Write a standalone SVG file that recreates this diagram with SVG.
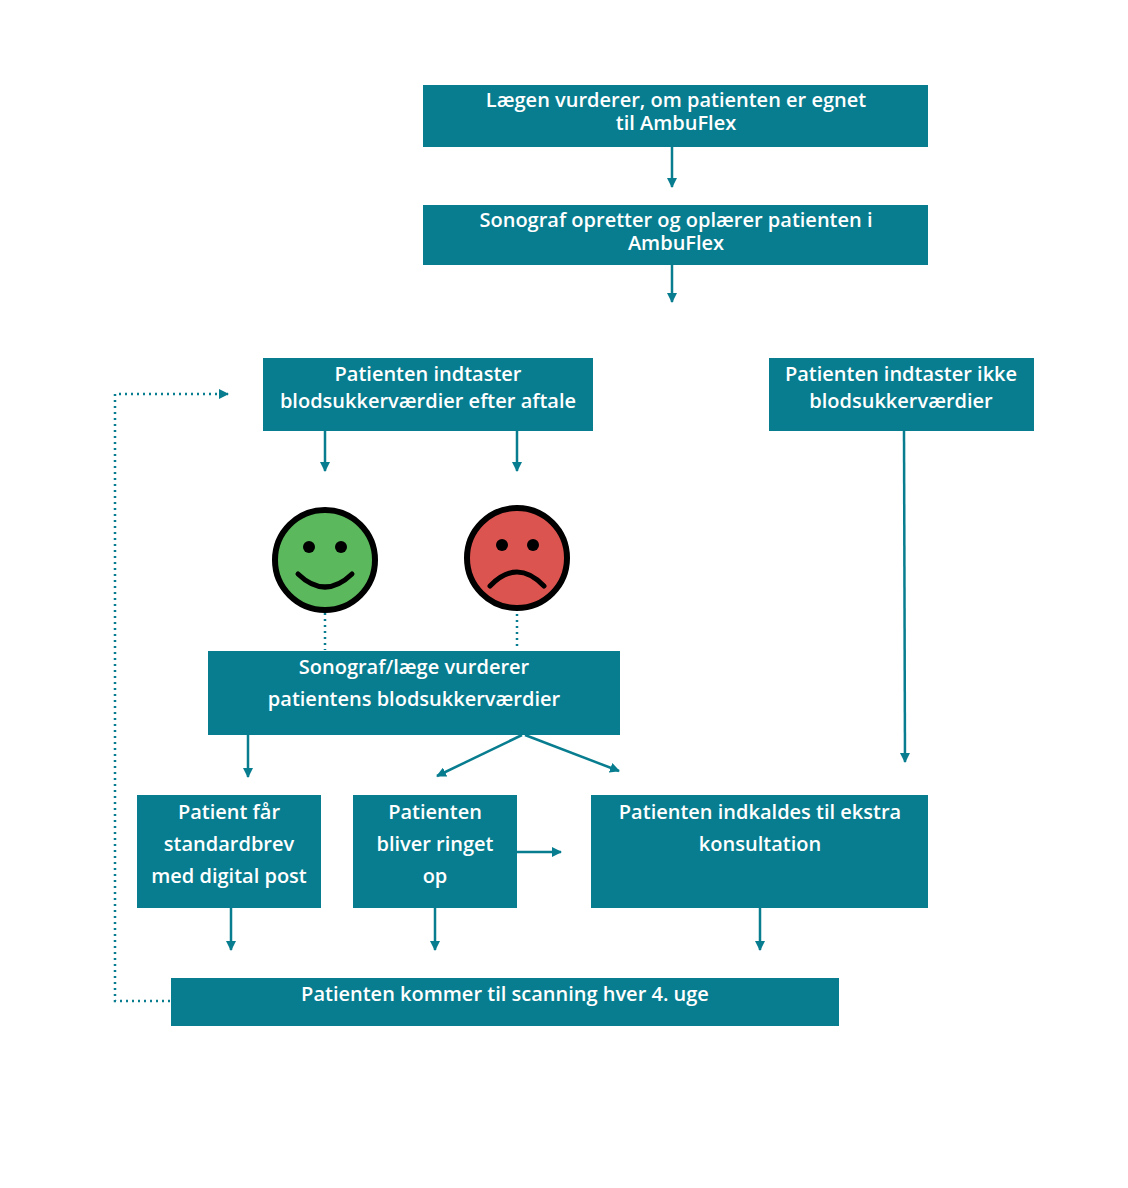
<svg xmlns="http://www.w3.org/2000/svg" width="1128" height="1188" viewBox="0 0 1128 1188">
<style>
.b{fill:#077d8f}
.t{font-family:"Open Sans",sans-serif;font-size:20px;font-weight:600;fill:#fff;text-anchor:middle}
.c{stroke:#077d8f;stroke-width:2.5;fill:none}
.d{stroke:#077d8f;stroke-width:2.5;fill:none;stroke-dasharray:2 4}
</style>
<defs><marker id="a" viewBox="0 0 10 10" refX="9" refY="5" markerWidth="4" markerHeight="4" orient="auto"><path d="M0 0L10 5L0 10z" fill="#077d8f"/></marker></defs>
<rect width="1128" height="1188" fill="#fff"/>
<g id="n1"><rect class="b" x="423" y="85" width="505" height="62"/><text class="t" x="676" y="107">Lægen vurderer, om patienten er egnet</text><text class="t" x="676" y="130">til AmbuFlex</text></g>
<g id="n2"><rect class="b" x="423" y="205" width="505" height="60"/><text class="t" x="676" y="227">Sonograf opretter og oplærer patienten i</text><text class="t" x="676" y="250">AmbuFlex</text></g>
<g id="n3"><rect class="b" x="263" y="358" width="330" height="73"/><text class="t" x="428" y="381">Patienten indtaster</text><text class="t" x="428" y="408">blodsukkerværdier efter aftale</text></g>
<g id="n4"><rect class="b" x="769" y="358" width="265" height="73"/><text class="t" x="901" y="381">Patienten indtaster ikke</text><text class="t" x="901" y="408">blodsukkerværdier</text></g>
<g id="happy"><circle cx="325" cy="560" r="50" fill="#5cb85c" stroke="#000" stroke-width="6"/><circle cx="309" cy="547" r="6"/><circle cx="341" cy="547" r="6"/><path d="M298 574Q325 600 352 574" fill="none" stroke="#000" stroke-width="5" stroke-linecap="round"/></g>
<g id="sad"><circle cx="517" cy="558" r="50" fill="#dc5450" stroke="#000" stroke-width="6"/><circle cx="502" cy="545" r="6"/><circle cx="533" cy="545" r="6"/><path d="M490 586Q517 558 544 586" fill="none" stroke="#000" stroke-width="5" stroke-linecap="round"/></g>
<g id="n5"><rect class="b" x="208" y="651" width="412" height="84"/><text class="t" x="414" y="674">Sonograf/læge vurderer</text><text class="t" x="414" y="706">patientens blodsukkerværdier</text></g>
<g id="n6"><rect class="b" x="137" y="795" width="184" height="113"/><text class="t" x="229" y="819">Patient får</text><text class="t" x="229" y="851">standardbrev</text><text class="t" x="229" y="883">med digital post</text></g>
<g id="n7"><rect class="b" x="353" y="795" width="164" height="113"/><text class="t" x="435" y="819">Patienten</text><text class="t" x="435" y="851">bliver ringet</text><text class="t" x="435" y="883">op</text></g>
<g id="n8"><rect class="b" x="591" y="795" width="337" height="113"/><text class="t" x="760" y="819">Patienten indkaldes til ekstra</text><text class="t" x="760" y="851">konsultation</text></g>
<g id="n9"><rect class="b" x="171" y="978" width="668" height="48"/><text class="t" x="505" y="1001">Patienten kommer til scanning hver 4. uge</text></g>
<g id="connectors">
<path class="c" marker-end="url(#a)" d="M672 147V187"/>
<path class="c" marker-end="url(#a)" d="M672 265V302"/>
<path class="c" marker-end="url(#a)" d="M325 431V471"/>
<path class="c" marker-end="url(#a)" d="M517 431V471"/>
<path class="c" marker-end="url(#a)" d="M904 431L905 762"/>
<path class="d" d="M325 613V650"/>
<path class="d" d="M517 614V650"/>
<path class="c" marker-end="url(#a)" d="M248 735V777"/>
<path class="c" marker-end="url(#a)" d="M522 735L437 776"/>
<path class="c" marker-end="url(#a)" d="M525 735L619 771"/>
<path class="c" marker-end="url(#a)" d="M517 852L561 852"/>
<path class="c" marker-end="url(#a)" d="M231 908V950"/>
<path class="c" marker-end="url(#a)" d="M435 908V950"/>
<path class="c" marker-end="url(#a)" d="M760 908V950"/>
<path class="d" marker-end="url(#a)" d="M170 1001H115V394H228"/>
</g>
</svg>
